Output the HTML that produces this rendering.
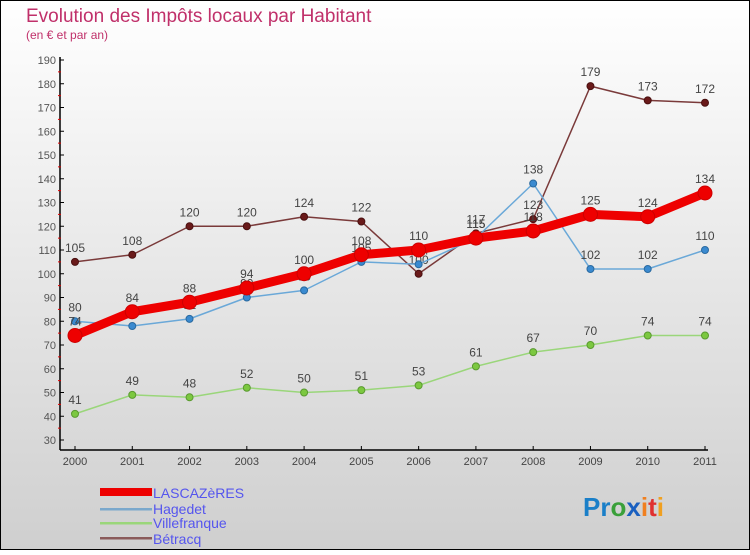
<!DOCTYPE html>
<html><head><meta charset="utf-8"><style>
body{margin:0}
svg text{font-family:"Liberation Sans","DejaVu Sans",sans-serif}
</style></head><body>
<svg id="c" width="750" height="550" viewBox="0 0 750 550" xmlns="http://www.w3.org/2000/svg">
<defs><linearGradient id="bg" x1="0" y1="0" x2="0" y2="1"><stop offset="0" stop-color="#ffffff"/><stop offset="1" stop-color="#cfcfcf"/></linearGradient></defs>
<rect x="0.5" y="0.5" width="749" height="549" fill="url(#bg)" stroke="#000"/>
<text x="26" y="22" font-size="19" fill="#c0306a">Evolution des Impôts locaux par Habitant</text>
<text x="26" y="39" font-size="12" fill="#c0306a">(en € et par an)</text>
<g id="axes"></g>
<g id="series"></g>
<g>
<rect x="100" y="488" width="52" height="8" fill="#e00"/>
<text x="153" y="498" font-size="14" fill="#5555ee">LASCAZèRES</text>
<rect x="100" y="508" width="52" height="2.5" fill="#7aa8cc"/>
<text x="153" y="514" font-size="14" fill="#5555ee">Hagedet</text>
<rect x="100" y="522" width="52" height="2.5" fill="#9ad67a"/>
<text x="153" y="528" font-size="14" fill="#5555ee">Villefranque</text>
<rect x="100" y="537" width="52" height="2.5" fill="#8a5a5a"/>
<text x="153" y="544" font-size="14" fill="#5555ee">Bétracq</text>
</g>
<text x="583" y="516" font-size="26" font-weight="bold"><tspan fill="#1a7fc8">Pr</tspan><tspan fill="#3aa03a">o</tspan><tspan fill="#1a60c0">x</tspan><tspan fill="#f08020">i</tspan><tspan fill="#e03030">t</tspan><tspan fill="#f0a020">i</tspan></text>
</svg>
<script>
const years=[2000,2001,2002,2003,2004,2005,2006,2007,2008,2009,2010,2011];
const yTicks=[30,40,50,60,70,80,90,100,110,120,130,140,150,160,170,180,190];
const lascazeres=[74,84,88,94,100,108,110,115,118,125,124,134];
const hagedet=[80,78,81,90,93,105,104,115,138,102,102,110];
const villefranque=[41,49,48,52,50,51,53,61,67,70,74,74];
const betracq=[105,108,120,120,124,122,100,117,123,179,173,172];
const NS="http://www.w3.org/2000/svg";
const X=i=>75+i*(630/11);
const Y=v=>440-(v-30)*(380/160);
function mk(t,a,p){const e=document.createElementNS(NS,t);for(const k in a)e.setAttribute(k,a[k]);p.appendChild(e);return e;}
const ax=document.getElementById('axes');
let l=mk('line',{x1:60,y1:57,x2:60,y2:450,stroke:'#000','stroke-width':1.5},ax);


l=mk('line',{x1:60,y1:450,x2:708,y2:450,stroke:'#000','stroke-width':1.5},ax);


yTicks.forEach(v=>{
 mk('line',{x1:60,y1:Y(v),x2:64,y2:Y(v),stroke:'#000'},ax);
 if(v<190)mk('line',{x1:58,y1:Y(v+5),x2:61,y2:Y(v+5),stroke:'#d00'},ax);
 const t=mk('text',{x:56,y:Y(v)+4,'font-size':11,fill:'#555','text-anchor':'end'},ax);t.textContent=v;
 
 
});
years.forEach((y,i)=>{
 mk('line',{x1:X(i),y1:446,x2:X(i),y2:450,stroke:'#000'},ax);
 const t=mk('text',{x:X(i),y:465,'font-size':11,fill:'#444','text-anchor':'middle'},ax);t.textContent=y;
 
 
});
const sg=document.getElementById('series');
function series(vals,name,color,w,r,dot,dotStroke){
 const g=mk('g',{},sg);
 
 
 const pl=mk('polyline',{points:vals.map((v,i)=>X(i)+','+Y(v)).join(' '),fill:'none',stroke:color,'stroke-width':w,'stroke-linejoin':'round'},g);
 
 
 vals.forEach((v,i)=>{
  const c=mk('circle',{cx:X(i),cy:Y(v),r:r,fill:dot,stroke:dotStroke,'stroke-width':1},g);
  
  
  const t=mk('text',{x:X(i),y:Y(v)-10,'font-size':12,fill:'#444','text-anchor':'middle'},g);t.textContent=v;
  
  
 });
}
series(villefranque,'villefranque','#9ad67a',1.5,3.5,'#7cc840','#5a9a30');
series(betracq,'betracq','#7a3a3a',1.5,3.5,'#6a1a1a','#4a1010');
series(hagedet,'hagedet','#6aa8d8',1.5,3.5,'#3a8ad0','#2a6aa0');
series(lascazeres,'lascazeres','#ee0000',9,7,'#ee0000','#cc0000');
</script>
</body></html>
